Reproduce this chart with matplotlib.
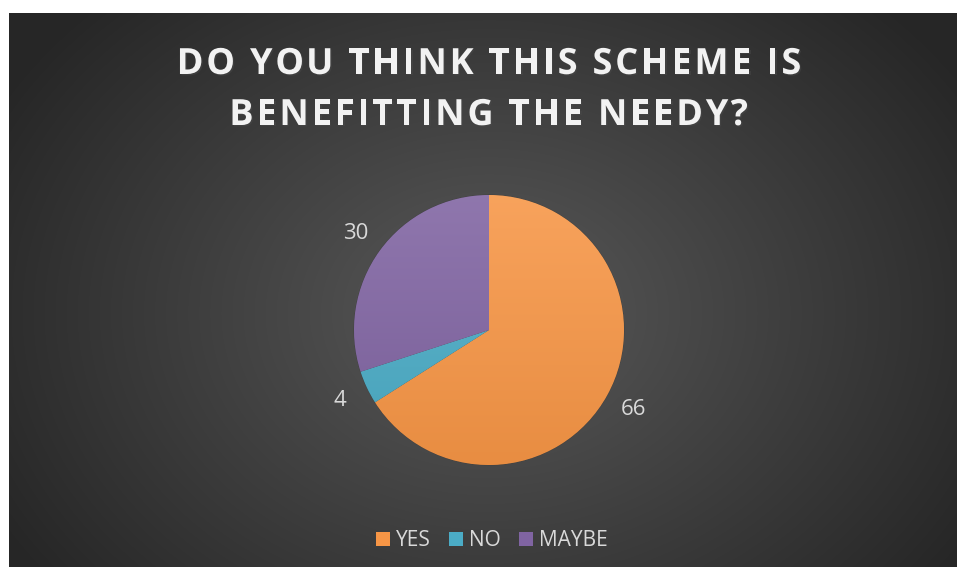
import numpy as np
import matplotlib
matplotlib.use('Agg')
import matplotlib.pyplot as plt
import matplotlib.colors as mcolors
import matplotlib.patheffects as pe
from matplotlib.patches import Patch

# survey answers
answers = ['YES', 'NO', 'MAYBE']
counts = [66, 4, 30]
colors = ['#F79646', '#4BACC6', '#8064A2']
title_lines = ['DO YOU THINK THIS SCHEME IS', 'BENEFITTING THE NEEDY?']

W, H = 957, 567
fig = plt.figure(figsize=(W / 100, H / 100), dpi=100)
fig.patch.set_facecolor('white')

# dark background with a soft radial glow
bg = fig.add_axes([9 / W, 0, (W - 9) / W, (H - 13) / H])
bg.set_axis_off()
yy, xx = np.mgrid[0:554, 0:948]
cx, cy = 480, 300
d = np.sqrt(((xx - cx) / 620.0) ** 2 + ((yy - cy) / 480.0) ** 2)
shade = np.clip(0.35 - 0.22 * d, 0.15, 0.35)
bg.imshow(np.dstack([shade] * 3), aspect='auto', extent=[0, 1, 0, 1], origin='upper')
bg.set_xlim(0, 1)
bg.set_ylim(0, 1)

# title with extra letter spacing, laid out character by character
renderer = fig.canvas.get_renderer()
title_kw = dict(color='#f2f2f2', fontsize=26, fontweight='bold', family='Open Sans',
                va='center', ha='left',
                path_effects=[pe.withSimplePatchShadow(offset=(1, -1), alpha=0.5)])
track = 2.8
for line, ypix in zip(title_lines, [65, 116]):
    def width(s):
        if not s:
            return 0.0
        t = fig.text(0, 0, s, **title_kw)
        w = t.get_window_extent(renderer).width
        t.remove()
        return w
    total = width(line) + track * (len(line) - 1)
    x0 = 489 - total / 2
    for i, ch in enumerate(line):
        x = x0 + width(line[:i]) + track * i
        fig.text(x / W, 1 - ypix / H, ch, **title_kw)

# pie area
r = 135
ax = fig.add_axes([(489 - r) / W, (H - 330 - r) / H, 2 * r / W, 2 * r / H])
wedges, texts = ax.pie(counts, colors=colors, startangle=90, counterclock=False,
                       labels=[str(c) for c in counts], labeldistance=1.22,
                       wedgeprops=dict(linewidth=0.6, edgecolor='#404040'),
                       textprops=dict(color='#d9d9d9', fontsize=16, family='Open Sans'))
for t in texts:
    t.set_ha('center')
    t.set_va('center')

# vertical shading inside each slice
ramp = np.linspace(0, 1, 256)[:, None]
for w, c in zip(wedges, colors):
    base = np.array(mcolors.to_rgb(c))
    top = base + (1 - base) * 0.12
    bottom = base * 0.94
    img = top[None, None, :] * (1 - ramp[:, :, None]) + bottom[None, None, :] * ramp[:, :, None]
    im = ax.imshow(img, extent=[-1, 1, -1, 1], aspect='auto', origin='upper', zorder=w.get_zorder() + 0.1)
    im.set_clip_path(w)
ax.set_xlim(-1, 1)
ax.set_ylim(-1, 1)
ax.set_axis_off()

handles = [Patch(facecolor=c, label=a) for a, c in zip(answers, colors)]
fig.legend(handles=handles, loc='center', bbox_to_anchor=(492 / W, 1 - 541 / H), ncol=3,
           frameon=False, handlelength=0.63, handleheight=0.63, handletextpad=0.3,
           columnspacing=0.9, prop=dict(family='Open Sans', size=15), labelcolor='#d9d9d9')

fig.savefig('out.png', dpi=100)
